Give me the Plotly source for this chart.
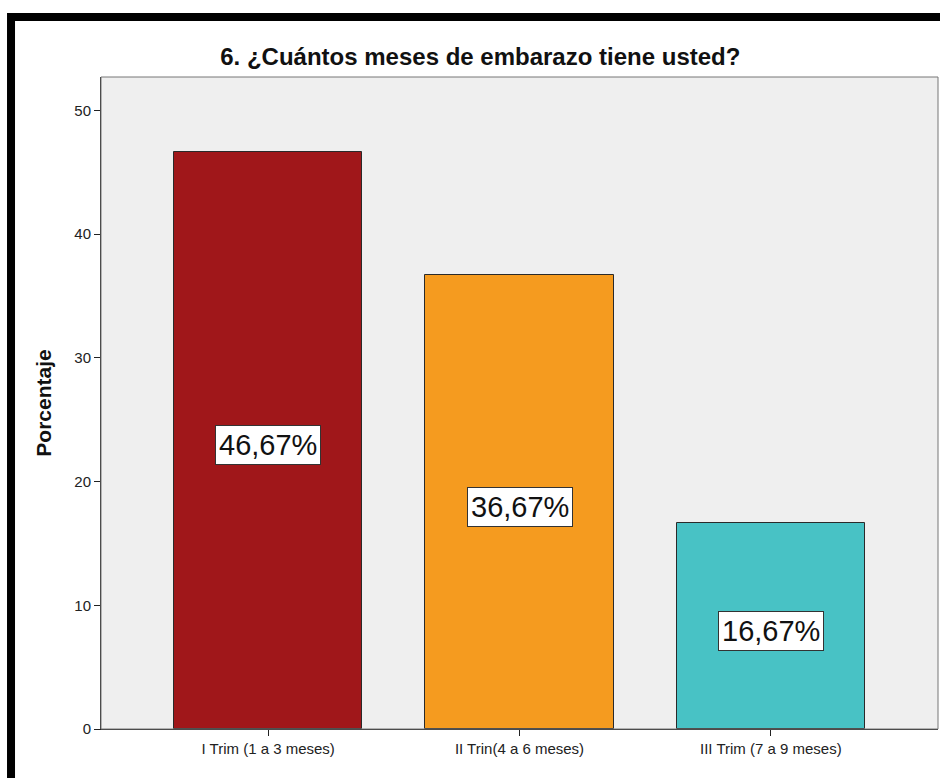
import plotly.graph_objects as go

categories = ["I Trim (1 a 3 meses)", "II Trin(4 a 6 meses)", "III Trim (7 a 9 meses)"]
percentages = [46.67, 36.67, 16.67]
bar_colors = ["#A0171A", "#F59B1F", "#48C2C5"]
value_labels = ["46,67%", "36,67%", "16,67%"]
y_ticks = [0, 10, 20, 30, 40, 50]

positions = list(range(len(categories)))

fig = go.Figure()
fig.add_trace(go.Bar(
    x=positions,
    y=percentages,
    width=0.75,
    marker=dict(color=bar_colors, line=dict(color="#2a2a2a", width=1)),
    hoverinfo="skip",
))

for xpos, val, lab in zip(positions, percentages, value_labels):
    fig.add_annotation(
        x=xpos, y=val / 2, yshift=-5, text=lab, showarrow=False,
        font=dict(family="Liberation Sans, Arial, sans-serif", size=29, color="#111"),
        bgcolor="white", bordercolor="#333", borderwidth=1, borderpad=3,
    )

# outer frame: thick black border on the left and top
fig.add_shape(type="path", xref="paper", yref="paper",
              path="M -0.1075,-0.2 L -0.1075,1.092 L 1.2,1.092",
              line=dict(color="black", width=8))
# grey frame around the plotting area
fig.add_shape(type="rect", xref="paper", yref="paper", x0=0, y0=0, x1=1, y1=1,
              line=dict(color="#777", width=1), layer="above")

fig.update_layout(
    width=940, height=778,
    margin=dict(l=101, r=2, t=77, b=49),
    paper_bgcolor="white",
    plot_bgcolor="#EFEFEF",
    showlegend=False,
    title=dict(text="<b>6. ¿Cuántos meses de embarazo tiene usted?</b>",
               x=0.511, xref="container", xanchor="center", y=0.927, yanchor="middle",
               font=dict(family="Liberation Sans, Arial, sans-serif", size=24, color="#111")),
    bargap=0,
)
fig.update_xaxes(
    range=[-0.665, 2.665], tickvals=positions, ticktext=categories,
    showgrid=False, zeroline=False, showline=True, linecolor="#222", linewidth=1,
    ticks="outside", ticklen=6, tickcolor="#222",
    tickfont=dict(family="Liberation Sans, Arial, sans-serif", size=15, color="#222"),
    fixedrange=True,
)
fig.update_yaxes(
    range=[0, 52.7], tickvals=y_ticks,
    showgrid=False, zeroline=False, showline=True, linecolor="#222", linewidth=1,
    ticks="outside", ticklen=6, tickcolor="#222",
    tickfont=dict(family="Liberation Sans, Arial, sans-serif", size=15, color="#222"),
    title=dict(text="<b>Porcentaje</b>", standoff=16,
               font=dict(family="Liberation Sans, Arial, sans-serif", size=21, color="#111")),
    fixedrange=True,
)

fig.write_html("out.html")
